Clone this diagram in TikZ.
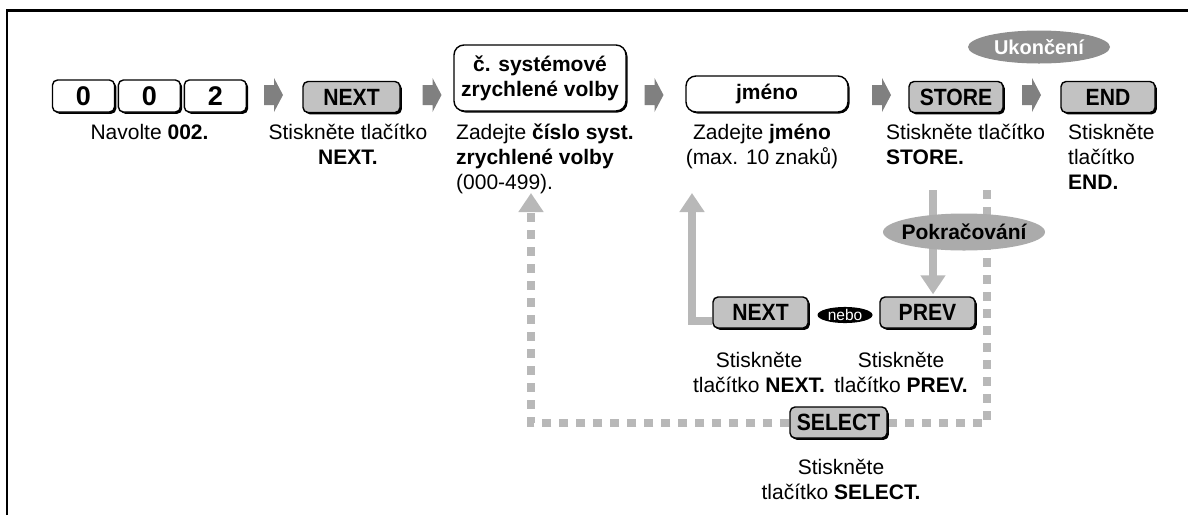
\documentclass[tikz,border=0pt]{standalone}
\usepackage{fontspec}
\setmainfont{Liberation Sans}
\newfontfamily\keyfont[FakeStretch=0.9]{Liberation Sans}
\usetikzlibrary{arrows.meta,positioning,calc,backgrounds,shapes.geometric,shadows}
\definecolor{keygray}{HTML}{C2C2C2}
\definecolor{stepgray}{HTML}{808080}
\definecolor{endgray}{HTML}{8E8E8E}
\definecolor{contgray}{HTML}{ABABAB}
\definecolor{linegray}{HTML}{B8B8B8}
\newcommand{\bodysize}{\fontsize{21}{25}\selectfont}
\tikzset{
  key/.style={draw,line width=1.4pt,rounded corners=5pt,fill=white,minimum height=31pt,inner sep=0pt,
    font=\keyfont\fontsize{23.5}{23.5}\selectfont\bfseries,
    drop shadow={shadow xshift=1.8pt,shadow yshift=-1.8pt,fill=black,opacity=1}},
  digitkey/.style={key,minimum width=62pt,minimum height=32pt,font=\fontsize{27}{27}\selectfont\bfseries},
  graykey/.style={key,fill=keygray},
  entry/.style={draw,line width=1.4pt,rounded corners=10pt,fill=white,inner sep=0pt,align=center,
    font=\fontsize{21}{25}\selectfont\bfseries,
    drop shadow={shadow xshift=1.5pt,shadow yshift=-1.5pt,fill=black,opacity=1}},
  caption/.style={inner sep=0pt,anchor=north,align=center,font=\bodysize},
  oval/.style={ellipse,inner sep=0pt,font=\fontsize{21}{21}\selectfont\bfseries},
  grayline/.style={draw=linegray,line width=8pt},
  dashline/.style={grayline,dash pattern=on 9pt off 8pt},
  graytip/.style={-{Triangle[width=24pt,length=19pt]}}
}

\begin{document}
\begin{tikzpicture}[x=1pt,y=-1pt]
\useasboundingbox (0,0) rectangle (1188,515);
\draw[line width=2.6pt] (7,515) -- (7,10.5) -- (1188,10.5);

% top row
\node[digitkey] (knula) at (83.5,96) {0};
\node[digitkey,right=2.5pt of knula] (knulab) {0};
\node[digitkey,right=2.5pt of knulab] (kdva) {2};
\node[graykey,minimum width=97pt] (nextkey) at (351.5,97) {NEXT};
\node[entry,minimum width=172pt,minimum height=66pt] (sysbox) at (540,78) {č. systémové\\zrychlené volby};
\node[entry,minimum width=162pt,minimum height=36pt] (namebox) at (767,94) {jméno};
\node[graykey,minimum width=94pt] (storekey) at (956,97) {STORE};
\node[graykey,minimum width=94pt] (endkey) at (1108,97) {END};
\node[oval,fill=endgray,text=white,minimum width=142pt,minimum height=33pt,font=\fontsize{20}{20}\selectfont\bfseries] (endoval) at (1039,47) {\makebox[0pt]{Ukončení}};
\foreach \x in {273.5,432,654,881.5,1031.5}
  \fill[stepgray,shift={(\x,95)}] (-9.5,-10) -- (0.5,-10) -- (0.5,-17) -- (9.5,0) -- (0.5,17) -- (0.5,10) -- (-9.5,10) -- cycle;

\node[caption] (knulatext) at (149.5,124) {Navolte \textbf{002.}};
\node[caption] (nexttext) at (348,124) {Stiskněte tlačítko\\\textbf{NEXT.}};
\node[caption,align=left,anchor=north west] (systext) at (456,124) {Zadejte \textbf{číslo syst.}\\\textbf{zrychlené volby}\\(000-499).};
\node[caption] (nametext) at (762,124) {Zadejte \textbf{jméno}\\(max. 10 znaků)};
\node[caption,align=left,anchor=north west] (storetext) at (886,124) {Stiskněte tlačítko\\\textbf{STORE.}};
\node[caption,align=left,anchor=north west] (endtext) at (1068,124) {Stiskněte\\tlačítko\\\textbf{END.}};

% lower part
\node[oval,fill=contgray,minimum width=162pt,minimum height=37pt] (contoval) at (964,232) {\makebox[0pt]{Pokračování}};
\node[graykey,minimum width=95pt] (nextkeyb) at (760.5,312.5) {NEXT};
\node[ellipse,fill=black,text=white,inner sep=0pt,minimum width=55pt,minimum height=15pt,font=\fontsize{15.5}{15.5}\selectfont] (nebo) at (845,315) {\makebox[0pt]{nebo}};
\node[graykey,minimum width=95pt] (prevkey) at (927.5,312.5) {PREV};
\node[caption] (nextbtext) at (759,352) {Stiskněte\\tlačítko \textbf{NEXT.}};
\node[caption] (prevtext) at (901,352) {Stiskněte\\tlačítko \textbf{PREV.}};
\node[graykey,minimum width=97pt] (selectkey) at (838.5,422.5) {SELECT};
\node[caption] (selecttext) at (841,459) {Stiskněte\\tlačítko \textbf{SELECT.}};

\coordinate (storedown) at (933,190);
\coordinate (storedash) at (987,190);
\coordinate (sysback) at (531,193);
\coordinate (nameback) at (692,193);
\begin{scope}[on background layer]
\draw[grayline,graytip,shorten >=2pt] (storedown) -- (storedown |- prevkey.north);
\draw[dashline,graytip] (storedash) |- (selectkey) -| (sysback);
\draw[grayline,graytip] ([yshift=-8pt]nextkeyb.west) -| (nameback);
\end{scope}
\end{tikzpicture}
\end{document}
